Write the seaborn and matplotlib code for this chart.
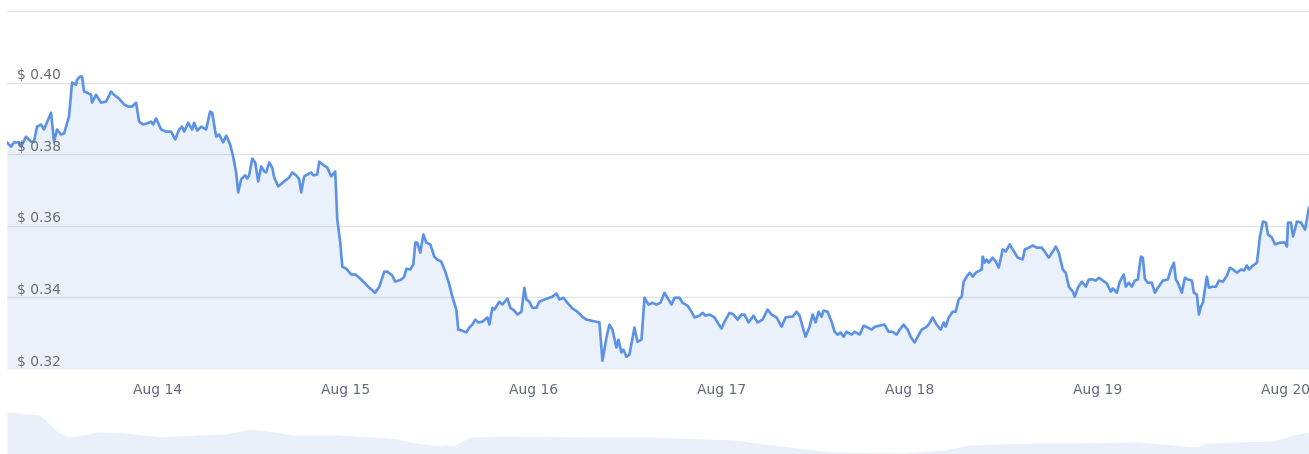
import pandas as pd
import matplotlib
matplotlib.use("Agg")
import matplotlib.pyplot as plt
import matplotlib.dates as mdates
import seaborn as sns

# hours since Aug 13 00:00 and price in USD
hours = [
    4.85, 5.36, 5.74, 6.38, 6.64, 7.28, 7.91, 8.30, 8.68, 9.19, 9.57, 10.47, 10.85, 11.23, 11.74, 12.13,
    12.76, 13.15, 13.66, 13.79, 14.17, 14.42, 14.68, 15.06, 15.57, 15.70, 16.21, 16.85, 17.49, 18.13,
    18.51, 19.15, 19.79, 20.30, 20.81, 21.32, 21.70, 22.21, 22.72, 23.23, 23.49, 23.87, 24.51, 25.15,
    25.79, 26.30, 26.81, 27.19, 27.45, 27.96, 28.47, 28.72, 29.11, 29.62, 30.25, 30.76, 31.02, 31.53,
    31.91, 32.42, 32.81, 33.32, 33.70, 34.08, 34.34, 34.72, 35.23, 35.49, 35.74, 36.13, 36.51, 36.89,
    37.28, 37.66, 37.91, 38.30, 38.68, 38.94, 39.45, 40.21, 40.85, 41.23, 41.74, 42.13, 42.38, 42.76,
    43.15, 43.66, 43.91, 44.42, 44.68, 45.32, 45.70, 46.21, 46.72, 46.98, 47.36, 47.62, 48.13, 48.77,
    49.28, 49.79, 50.42, 51.06, 51.83, 52.34, 52.98, 53.36, 54.00, 54.38, 55.15, 55.53, 55.79, 56.30,
    56.68, 56.94, 57.19, 57.57, 57.96, 58.34, 58.85, 59.36, 59.74, 60.25, 60.76, 61.27, 61.66, 62.17,
    62.42, 62.94, 63.45, 63.83, 64.21, 64.59, 64.98, 65.49, 66.13, 66.38, 66.77, 67.02, 67.66, 68.04,
    68.68, 69.06, 69.57, 69.96, 70.47, 70.85, 71.11, 71.49, 71.87, 72.38, 72.76, 73.40, 74.04, 74.42,
    74.94, 75.32, 75.83, 76.34, 76.98, 77.62, 78.25, 78.76, 79.40, 80.04, 80.42, 80.81, 81.32, 81.70,
    82.08, 82.59, 82.85, 83.23, 83.49, 83.87, 84.25, 84.89, 85.28, 85.79, 86.17, 86.68, 87.19, 87.70,
    88.21, 88.72, 89.23, 89.62, 90.00, 90.64, 91.02, 91.66, 92.17, 92.55, 93.19, 93.57, 93.96, 94.47,
    95.10, 95.49, 96.00, 96.38, 97.02, 97.53, 98.04, 98.55, 98.93, 99.45, 100.08, 100.59, 101.23,
    101.87, 102.38, 103.02, 103.66, 104.17, 104.68, 105.06, 105.57, 105.96, 106.34, 106.72, 107.23,
    107.62, 108.00, 108.38, 108.76, 109.02, 109.53, 110.04, 110.42, 110.81, 111.19, 111.57, 111.96,
    112.59, 112.98, 113.62, 114.13, 114.64, 115.15, 115.53, 116.17, 116.80, 117.31, 117.82, 118.33,
    118.72, 119.23, 119.74, 120.12, 120.63, 121.02, 121.53, 122.04, 122.42, 122.93, 123.44, 123.95,
    124.34, 124.59, 124.98, 125.49, 125.87, 126.25, 126.64, 126.89, 127.27, 127.66, 128.04, 128.42,
    128.68, 129.19, 129.32, 129.57, 129.83, 130.08, 130.59, 130.98, 131.36, 131.87, 132.25, 132.76,
    133.15, 133.79, 134.42, 134.68, 135.19, 135.70, 136.21, 136.85, 137.23, 137.74, 138.25, 138.64,
    139.02, 139.53, 139.91, 140.30, 140.81, 141.06, 141.45, 141.96, 142.47, 142.85, 143.36, 143.74,
    144.13, 144.64, 145.15, 145.66, 145.91, 146.42, 146.80, 147.31, 147.57, 147.95, 148.34, 148.72,
    149.11, 149.49, 149.74, 150.00, 150.38, 150.89, 151.28, 151.66, 152.30, 152.94, 153.32, 153.70,
    153.96, 154.21, 154.72, 155.11, 155.49, 156.00, 156.25, 156.64, 156.89, 157.15, 157.40, 157.91,
    158.17, 158.68, 159.06, 159.45, 159.96, 160.47, 160.85, 161.24, 161.75, 162.26, 162.64, 163.02,
    163.28, 163.79, 164.30, 164.68, 165.07, 165.45, 165.71, 166.22, 166.60, 167.24, 167.88, 168.13,
    168.26, 168.64, 168.90, 169.41, 169.92, 170.43, 170.94,
]
price = [
    0.3833, 0.3821, 0.3833, 0.3833, 0.3821, 0.3849, 0.3835, 0.3835, 0.3877, 0.3883, 0.3869, 0.3916,
    0.3835, 0.3869, 0.3855, 0.3858, 0.3905, 0.4000, 0.3994, 0.4008, 0.4017, 0.4017, 0.3975, 0.3972,
    0.3966, 0.3944, 0.3966, 0.3944, 0.3947, 0.3975, 0.3966, 0.3955, 0.3939, 0.3933, 0.3933, 0.3944,
    0.3891, 0.3883, 0.3886, 0.3891, 0.3883, 0.3900, 0.3869, 0.3863, 0.3863, 0.3841, 0.3869, 0.3877,
    0.3863, 0.3888, 0.3869, 0.3888, 0.3866, 0.3877, 0.3869, 0.3919, 0.3916, 0.3849, 0.3855, 0.3833,
    0.3852, 0.3827, 0.3793, 0.3749, 0.3693, 0.3730, 0.3741, 0.3732, 0.3741, 0.3788, 0.3777, 0.3724,
    0.3766, 0.3752, 0.3749, 0.3777, 0.3763, 0.3735, 0.3710, 0.3724, 0.3735, 0.3749, 0.3741, 0.3730,
    0.3693, 0.3738, 0.3743, 0.3749, 0.3741, 0.3743, 0.3779, 0.3768, 0.3763, 0.3738, 0.3752, 0.3618,
    0.3553, 0.3486, 0.3480, 0.3464, 0.3464, 0.3455, 0.3441, 0.3427, 0.3413, 0.3430, 0.3472, 0.3472,
    0.3461, 0.3444, 0.3450, 0.3458, 0.3480, 0.3478, 0.3492, 0.3553, 0.3553, 0.3525, 0.3576, 0.3553,
    0.3548, 0.3514, 0.3506, 0.3500, 0.3472, 0.3436, 0.3402, 0.3366, 0.3310, 0.3307, 0.3302, 0.3316,
    0.3324, 0.3338, 0.3330, 0.3332, 0.3344, 0.3324, 0.3371, 0.3366, 0.3388, 0.3380, 0.3397, 0.3371,
    0.3363, 0.3352, 0.3360, 0.3427, 0.3394, 0.3388, 0.3371, 0.3371, 0.3388, 0.3394, 0.3399, 0.3402,
    0.3411, 0.3394, 0.3399, 0.3385, 0.3369, 0.3360, 0.3346, 0.3338, 0.3335, 0.3332, 0.3330, 0.3223,
    0.3288, 0.3324, 0.3310, 0.3260, 0.3282, 0.3246, 0.3254, 0.3234, 0.3240, 0.3316, 0.3276, 0.3282,
    0.3399, 0.3380, 0.3385, 0.3380, 0.3385, 0.3413, 0.3394, 0.3380, 0.3399, 0.3399, 0.3385, 0.3377,
    0.3360, 0.3344, 0.3349, 0.3357, 0.3349, 0.3352, 0.3344, 0.3330, 0.3313, 0.3332, 0.3357, 0.3352,
    0.3338, 0.3352, 0.3352, 0.3330, 0.3349, 0.3330, 0.3338, 0.3366, 0.3352, 0.3344, 0.3318, 0.3344,
    0.3346, 0.3346, 0.3360, 0.3349, 0.3318, 0.3290, 0.3318, 0.3352, 0.3330, 0.3360, 0.3346, 0.3363,
    0.3360, 0.3332, 0.3304, 0.3296, 0.3302, 0.3290, 0.3304, 0.3296, 0.3304, 0.3296, 0.3321, 0.3316,
    0.3310, 0.3318, 0.3321, 0.3324, 0.3304, 0.3304, 0.3296, 0.3310, 0.3324, 0.3310, 0.3290, 0.3274,
    0.3290, 0.3310, 0.3316, 0.3324, 0.3344, 0.3324, 0.3310, 0.3330, 0.3318, 0.3344, 0.3360, 0.3360,
    0.3394, 0.3402, 0.3444, 0.3458, 0.3469, 0.3458, 0.3469, 0.3472, 0.3478, 0.3514, 0.3497, 0.3506,
    0.3497, 0.3511, 0.3500, 0.3483, 0.3534, 0.3528, 0.3548, 0.3534, 0.3511, 0.3506, 0.3534, 0.3539,
    0.3545, 0.3539, 0.3539, 0.3528, 0.3511, 0.3528, 0.3542, 0.3525, 0.3478, 0.3469, 0.3430, 0.3416,
    0.3402, 0.3427, 0.3444, 0.3430, 0.3450, 0.3450, 0.3447, 0.3455, 0.3447, 0.3439, 0.3416, 0.3425,
    0.3413, 0.3444, 0.3464, 0.3430, 0.3441, 0.3430, 0.3447, 0.3450, 0.3514, 0.3511, 0.3452, 0.3441,
    0.3441, 0.3413, 0.3427, 0.3447, 0.3450, 0.3478, 0.3497, 0.3450, 0.3441, 0.3413, 0.3455, 0.3450,
    0.3447, 0.3413, 0.3408, 0.3352, 0.3374, 0.3385, 0.3458, 0.3427, 0.3430, 0.3430, 0.3447, 0.3444,
    0.3461, 0.3483, 0.3478, 0.3469, 0.3478, 0.3475, 0.3489, 0.3478, 0.3489, 0.3497, 0.3570, 0.3612,
    0.3609, 0.3576, 0.3567, 0.3548, 0.3553, 0.3553, 0.3542, 0.3609, 0.3609, 0.3570, 0.3612, 0.3609,
    0.3589, 0.3651,
]

# overview strip at the bottom (relative height of the area)
nav_hours = [4.85, 8.94, 9.70, 11.36, 12.64, 14.55, 16.47, 19.91, 24.25, 29.10, 32.81, 36.13, 38.81,
             41.49, 46.85, 53.74, 57.06, 59.74, 61.92, 63.96, 68.30, 79.02, 86.81, 97.53, 104.55,
             109.91, 118.98, 124.47, 127.66, 135.19, 140.55, 149.11, 156.64, 157.79, 166.34,
             169.02, 170.94]
nav_level = [0.857, 0.796, 0.694, 0.449, 0.347, 0.388, 0.449, 0.429, 0.347, 0.388, 0.408, 0.510,
             0.449, 0.388, 0.388, 0.327, 0.224, 0.163, 0.184, 0.347, 0.367, 0.347, 0.347, 0.286,
             0.143, 0.041, 0.020, 0.082, 0.184, 0.224, 0.224, 0.245, 0.143, 0.224, 0.265, 0.388,
             0.449]

y_ticks = [0.32, 0.34, 0.36, 0.38, 0.40, 0.42]

start = pd.Timestamp("2023-08-13")
df = pd.DataFrame({"time": start + pd.to_timedelta(hours, unit="h"), "price": price})
nav = pd.DataFrame({"time": start + pd.to_timedelta(nav_hours, unit="h"), "level": nav_level})

sns.set_style("white")
plt.rcParams["font.family"] = ["DejaVu Sans"]

line_color = "#5b92e5"
W, H = 1309, 454
fig = plt.figure(figsize=(W / 100, H / 100), dpi=100)
ax = fig.add_axes([7 / W, (H - 369) / H, 1 - 7 / W, (369 - 11) / H])
nav_ax = fig.add_axes([7 / W, 0, 1 - 7 / W, 49 / H])

ax.fill_between(df["time"], df["price"], y_ticks[0], color=line_color, alpha=0.12, lw=0)
sns.lineplot(data=df, x="time", y="price", ax=ax, color=line_color, lw=1.9)

ax.set_xlim(df["time"].min(), df["time"].max())
ax.set_ylim(y_ticks[0], y_ticks[-1])
ax.set_yticks(y_ticks)
ax.grid(axis="y", color="#e3e3e3", lw=1)
ax.set_axisbelow(True)
for s in ax.spines.values():
    s.set_visible(False)
ax.set_xlabel("")
ax.set_ylabel("")
ax.tick_params(axis="y", left=False, labelleft=False)
ax.tick_params(axis="x", bottom=False, pad=6.5, labelsize=10, labelcolor="#606a78")
ax.xaxis.set_major_locator(mdates.DayLocator())
ax.xaxis.set_major_formatter(mdates.DateFormatter("%b %d"))

# price labels sit inside the plot, just above each grid line (top one unlabelled)
for v in y_ticks[:-1]:
    ax.annotate(f"$ {v:.2f}", xy=(0, v), xycoords=("axes fraction", "data"),
                xytext=(7.2, 0.3), textcoords="offset points", ha="left", va="bottom",
                fontsize=10, color="#6b6b6b")

nav_ax.fill_between(nav["time"], nav["level"], 0, color="#e9f0f9", lw=0)
nav_ax.set_xlim(df["time"].min(), df["time"].max())
nav_ax.set_ylim(0, 1)
nav_ax.axis("off")

fig.savefig("out.png", dpi=100)
